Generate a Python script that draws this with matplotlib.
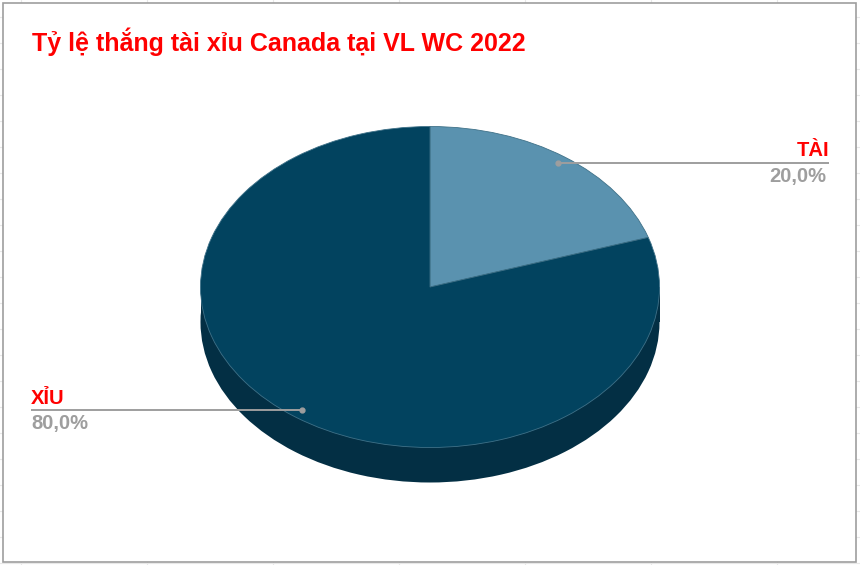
import matplotlib
matplotlib.use("Agg")
from matplotlib import pyplot as plt
from matplotlib.patches import Rectangle

W, H = 860, 565

title = "Tỷ lệ thắng tài xỉu Canada tại VL WC 2022"
labels = ["TÀI", "XỈU"]
values = [20.0, 80.0]
value_text = ["20,0%", "80,0%"]
colors = ["#5A92AF", "#02435F"]
side_color = "#032F44"

plt.rcParams["font.family"] = ["Liberation Sans", "DejaVu Sans"]


def pie_axes(fig, cx, cy, rx, ry):
    """Axes whose box is the ellipse, the pie gets squashed by aspect auto"""
    ax = fig.add_axes([(cx - rx) / W, 1 - (cy + ry) / H, 2 * rx / W, 2 * ry / H])
    ax.patch.set_alpha(0)
    return ax


def squash(ax):
    ax.set_aspect("auto")
    ax.set_xlim(-1, 1)
    ax.set_ylim(-1, 1)
    ax.axis("off")


fig = plt.figure(figsize=(W / 100, H / 100), dpi=100)
bg = fig.add_axes([0, 0, 1, 1])
bg.set_xlim(0, W)
bg.set_ylim(H, 0)
bg.axis("off")

# spreadsheet grid behind the chart
for x in range(21, W, 126):
    bg.plot([x, x], [0, H], color="#E8E8E8", lw=0.8)
for y in range(17, H, 26):
    bg.plot([0, W], [y, y], color="#E8E8E8", lw=0.8)
bg.add_patch(Rectangle((2.5, 2.5), 853, 559, fc="white", ec="#9E9E9E", lw=1.2, zorder=3))

cx, cy, rx, ry, depth = 430, 287, 229.5, 160.5, 35

# side of the disc
bg.add_patch(Rectangle((cx - rx, cy), 2 * rx, depth, fc=side_color, ec="none", zorder=4))
bg.set_zorder(1)
side = pie_axes(fig, cx, cy + depth, rx, ry)
side.set_zorder(2)
side.pie(values, colors=[side_color, side_color], startangle=90, counterclock=False, radius=1)
squash(side)

top = pie_axes(fig, cx, cy, rx, ry)
top.set_zorder(3)
top.pie(values, colors=colors, startangle=90, counterclock=False, radius=1,
        wedgeprops={"edgecolor": "#3F7188", "linewidth": 0.6})
squash(top)

# overlay for title and labels
fg = fig.add_axes([0, 0, 1, 1])
fg.set_zorder(4)
fg.patch.set_alpha(0)
fg.set_xlim(0, W)
fg.set_ylim(H, 0)
fg.axis("off")

fg.text(32, 42, title, color="#FF0000", fontsize=18, fontweight="bold", va="center", ha="left")

# leader lines
fg.plot([558, 829], [163, 163], color="#9E9E9E", lw=1.4, solid_capstyle="butt")
fg.plot([558], [163], "o", color="#9E9E9E", ms=3.5)
fg.plot([31, 302], [410, 410], color="#9E9E9E", lw=1.4, solid_capstyle="butt")
fg.plot([302], [410], "o", color="#9E9E9E", ms=3.5)

fg.text(829, 160, labels[0], color="#FF0000", fontsize=14.5, fontweight="bold", ha="right", va="bottom")
fg.text(826, 167, value_text[0], color="#9E9E9E", fontsize=14.5, fontweight="bold", ha="right", va="top")
fg.text(31, 408, labels[1], color="#FF0000", fontsize=14.5, fontweight="bold", ha="left", va="bottom")
fg.text(31, 414, value_text[1], color="#9E9E9E", fontsize=14.5, fontweight="bold", ha="left", va="top")

fig.savefig("out.png", dpi=100)
